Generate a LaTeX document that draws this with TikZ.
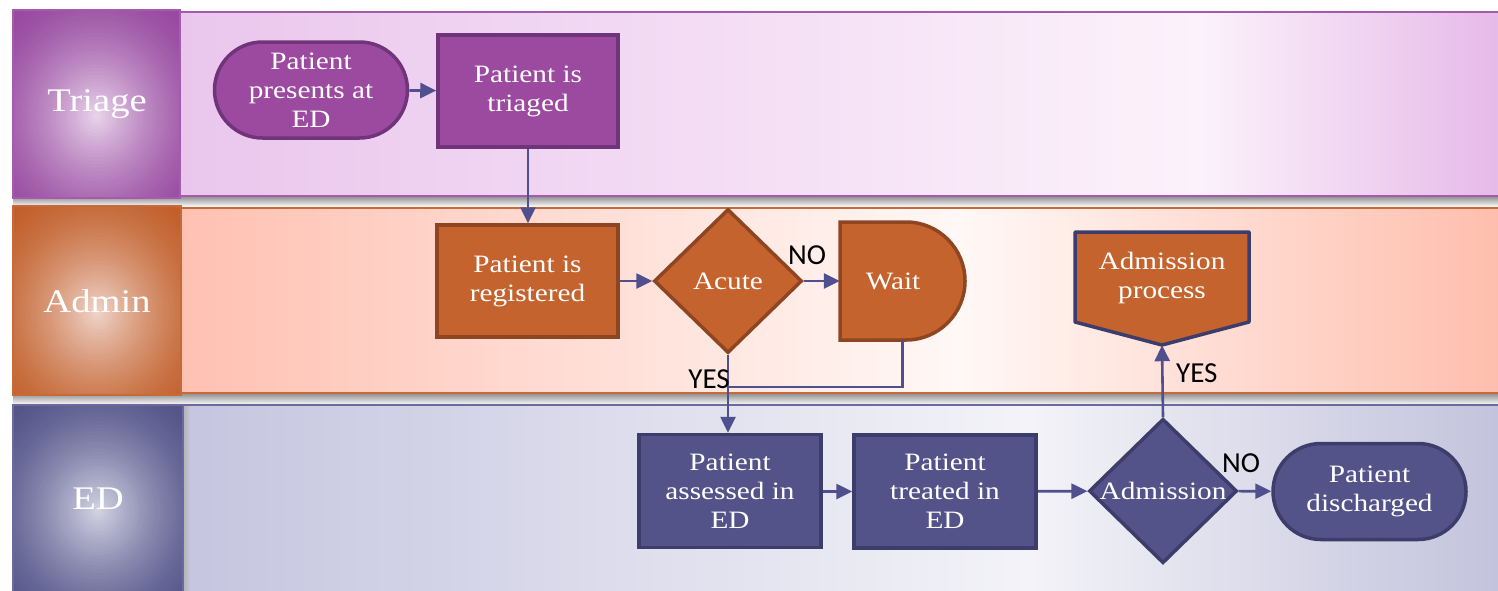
\documentclass[tikz,border=0pt]{standalone}
\usepackage{fontspec}
\setmainfont{Liberation Serif}[FakeStretch=1.17]
\newfontfamily\labelfont{Carlito}
\usetikzlibrary{shapes.geometric,arrows.meta}

\definecolor{purpFill}{HTML}{9C4A9F}
\definecolor{purpLine}{HTML}{6F3479}
\definecolor{orFill}{HTML}{C4632D}
\definecolor{orLine}{HTML}{8E4521}
\definecolor{navFill}{HTML}{535389}
\definecolor{navLine}{HTML}{3D3D6B}
\definecolor{flowCol}{HTML}{50508E}
\definecolor{triL}{HTML}{EAC6ED}
\definecolor{triR}{HTML}{E6BAE9}
\definecolor{triMid}{HTML}{FCF2FB}
\definecolor{triEdge}{HTML}{A45BAE}
\definecolor{admL}{HTML}{FFC1B2}
\definecolor{admR}{HTML}{FFBEAD}
\definecolor{admMid}{HTML}{FFF8F6}
\definecolor{admEdge}{HTML}{C8693A}
\definecolor{edL}{HTML}{C5C5E0}
\definecolor{edR}{HTML}{C3C3DD}
\definecolor{edMid}{HTML}{F3F3F8}
\definecolor{edEdge}{HTML}{6A6AA0}
% header glow colours (centre / rim)
\definecolor{triIn}{HTML}{EAD6EC}
\definecolor{triOut}{HTML}{974AA0}
\definecolor{admIn}{HTML}{F0D6CC}
\definecolor{admOut}{HTML}{C2602C}
\definecolor{edIn}{HTML}{D6D6E6}
\definecolor{edOut}{HTML}{55558A}

% soft glow filling a lane header: #1,#2 corners, #3 centre colour, #4 rim colour
\newcommand{\headerglow}[4]{%
  \begin{scope}
    \clip #1 rectangle #2;
    \fill[#4] #1 rectangle #2;
    \path #1 -- #2 coordinate[pos=0.5] (glowc);
    \foreach \k in {40,39,...,1}{%
      \pgfmathsetmacro{\t}{\k/40}%
      \pgfmathsetmacro{\p}{100*(1-\t)^1.5}%
      \colorlet{glowtmp}{#3!\p!#4}%
      \fill[glowtmp] ([yshift=-12pt]glowc) ellipse[x radius=125*\t, y radius=138*\t];
    }
  \end{scope}}

\tikzset{
  boxtext/.style={text=white, font=\fontsize{25}{29}\selectfont, align=center, inner sep=0pt},
  procbox/.style={boxtext, draw, line width=3.5pt, minimum width=#1},
  purpbox/.style={procbox=180pt, fill=purpFill, draw=purpLine, minimum height=112pt},
  orbox/.style={procbox=181pt, fill=orFill, draw=orLine, minimum height=112pt},
  navbox/.style={procbox=182pt, fill=navFill, draw=navLine, minimum height=113pt},
  terminal/.style={boxtext, draw, line width=3.5pt, minimum width=193pt, minimum height=96pt, rounded corners=48pt},
  decision/.style={boxtext, diamond, draw, line width=3.5pt, minimum width=148pt, minimum height=144pt},
  flow/.style={draw=flowCol, line width=2.6pt, -{Triangle[length=16pt,width=15pt]}},
  link/.style={draw=flowCol, line width=2.6pt},
  answer/.style={font=\labelfont\fontsize{29}{32}\selectfont, inner sep=0pt},
  lanetitle/.style={text=white, font=\fontsize{33}{36}\selectfont, inner sep=0pt},
  laneshadow/.style={top color=black!45, bottom color=white}
}

\begin{document}
\begin{tikzpicture}[x=1pt,y=-1pt]
\useasboundingbox (0,0) rectangle (1498,590);
\fill[white] (0,0) rectangle (1498,590);

% ---- drop shadows under the lanes ----
\shade[laneshadow] (13,196) rectangle (1498,207);
\shade[laneshadow] (13,393) rectangle (1498,405);

% ---- Triage lane ----
\shade[left color=triL, right color=triMid] (180,12) rectangle (1200,196);
\shade[left color=triMid, right color=triR] (1200,12) rectangle (1498,196);
\draw[triEdge, line width=2pt] (180,12) -- (1498,12) (180,196) -- (1498,196);
\headerglow{(13,10)}{(180,198)}{triIn}{triOut}
\draw[triEdge, line width=1.5pt] (13,10) rectangle (180,198);
\node[lanetitle] (tTriage) at (97,104) {Triage};

% ---- Admin lane ----
\shade[left color=admL, right color=admMid] (181,208) rectangle (960,393);
\shade[left color=admMid, right color=admR] (960,208) rectangle (1498,393);
\draw[admEdge, line width=2pt] (181,208) -- (1498,208) (181,393) -- (1498,393);
\headerglow{(13,206)}{(181,395)}{admIn}{admOut}
\draw[admEdge, line width=1.5pt] (13,206) rectangle (181,395);
\node[lanetitle] (tAdmin) at (97,301) {Admin};

% ---- ED lane ----
\shade[left color=edL, right color=edMid] (183,405) rectangle (1030,590);
\shade[left color=edMid, right color=edR] (1030,405) rectangle (1498,590);
\shade[left color=black!30, right color=edL] (183,405) rectangle (190,590);
\draw[edEdge, line width=2pt] (183,405) -- (1498,405);
\headerglow{(13,405)}{(183,592)}{edIn}{edOut}
\draw[edEdge, line width=1.5pt] (13,405) rectangle (183,592);
\node[lanetitle] (tED) at (98,499) {ED};

% ---- Triage steps ----
\node[terminal, fill=purpFill, draw=purpLine] (presents) at (311,90) {Patient\\presents at\\ED};
\node[purpbox] (triaged) at (528,91) {Patient is\\triaged};

% ---- Admin steps ----
\node[orbox] (registered) at (527.5,281) {Patient is\\registered};
\node[decision, fill=orFill, draw=orLine] (acute) at (728,281) {Acute};
% delay shape: flat left side, round right side
\draw[fill=orFill, draw=orLine, line width=3.5pt]
  (840,222) -- (906,222) arc[start angle=90, end angle=-90, radius=59pt] -- (840,340) -- cycle;
\node[boxtext, minimum width=125pt, minimum height=118pt] (wait) at (902.5,281) {};
\node[boxtext] (waittext) at (893,281) {Wait};
% off-page connector shape
\draw[fill=orFill, draw=navLine, line width=3.5pt, line join=round]
  (1075,232) -- (1249,232) -- (1249,322) -- (1162,345) -- (1075,322) -- cycle;
\node[minimum width=174pt, minimum height=113pt, inner sep=0pt] (admproc) at (1162,288.5) {};
\node[boxtext] (admproctext) at (1162,278) {Admission\\process};

% ---- ED steps ----
\node[navbox] (assessed) at (730,491) {Patient\\assessed in\\ED};
\node[navbox] (treated) at (945,491.5) {Patient\\treated in\\ED};
\node[decision, fill=navFill, draw=navLine] (admission) at (1163,491) {Admission};
\node[terminal, fill=navFill, draw=navLine] (discharged) at (1369.5,491.5) {Patient\\discharged};

% ---- connectors ----
\coordinate (join) at (728,387);
\draw[flow] (presents) -- (triaged);
\draw[flow] (triaged.south) -- (triaged.south |- registered.north);
\draw[flow] (registered) -- (acute);
\draw[flow] (acute) -- (wait.west);
\draw[link] (wait.south) |- (join);
\draw[flow] (acute.south) -- (acute.south |- assessed.north);
\draw[flow] (assessed.east |- treated.west) -- (treated.west);
\draw[flow] (treated) -- (admission);
\draw[flow] (admission) -- (discharged);
\draw[flow] (admission.north) -- (admproc.south);

% ---- decision answers ----
\node[answer, anchor=south west] (noAcute) at (788,265) {NO};
\node[answer, anchor=north east] (yesAcute) at (730,369) {YES};
\node[answer, anchor=west] (yesAdm) at (1176,373) {YES};
\node[answer, anchor=south west] (noAdm) at (1222,473) {NO};
\end{tikzpicture}
\end{document}
